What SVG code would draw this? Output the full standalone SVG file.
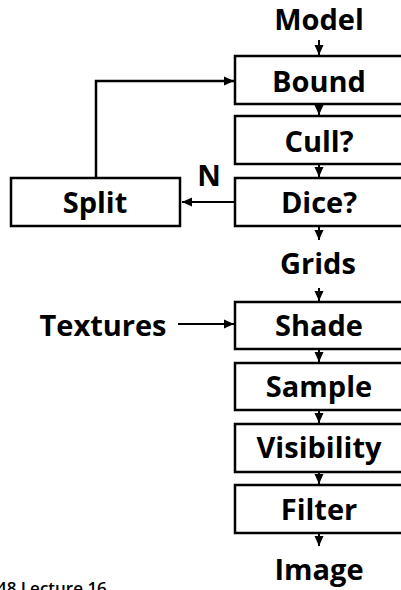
<svg xmlns="http://www.w3.org/2000/svg" width="401" height="590" viewBox="0 0 401 590">
  <style>
    .box { fill: #ffffff; stroke: #000000; stroke-width: 2.5; }
    .lbl { font-family: "Open Sans", "DejaVu Sans", sans-serif; font-weight: 700; font-size: 29px; fill: #000000; text-anchor: middle; }
    .foot { font-family: "Open Sans", "DejaVu Sans", sans-serif; font-weight: 600; font-size: 17px; fill: #000000; }
    .wire { fill: none; stroke: #000000; stroke-width: 2; }
    .wire3 { fill: none; stroke: #000000; stroke-width: 2.5; }
  </style>
  <defs>
    <marker id="head" markerUnits="userSpaceOnUse" markerWidth="10" markerHeight="10" viewBox="0 0 10 10" refX="10" refY="5" orient="auto">
      <path d="M0,0.5 L10,5 L0,9.5 Z" fill="#000000"/>
    </marker>
  </defs>
  <rect width="401" height="590" fill="#ffffff"/>

  <!-- connectors -->
  <g id="connectors">
    <path class="wire" d="M319,40 V55" marker-end="url(#head)"/>
    <path class="wire" d="M319,105 V115" marker-end="url(#head)"/>
    <path class="wire" d="M319,165 V177" marker-end="url(#head)"/>
    <path class="wire" d="M319,227 V240" marker-end="url(#head)"/>
    <path class="wire" d="M319,288 V301" marker-end="url(#head)"/>
    <path class="wire" d="M319,350 V362" marker-end="url(#head)"/>
    <path class="wire" d="M319,411 V423" marker-end="url(#head)"/>
    <path class="wire" d="M319,473 V484" marker-end="url(#head)"/>
    <path class="wire" d="M319,534 V546" marker-end="url(#head)"/>
    <!-- Dice? "N" branch to Split -->
    <path class="wire" d="M235,202 H182" marker-end="url(#head)"/>
    <text class="lbl" x="209" y="186">N</text>
    <!-- Split loops back into Bound -->
    <path class="wire3" d="M96,178 V81 H234" marker-end="url(#head)"/>
    <!-- Textures feed Shade -->
    <path class="wire" d="M178,324 H234" marker-end="url(#head)"/>
  </g>

  <g id="model"><text class="lbl" x="319" y="30">Model</text></g>
  <g id="bound"><rect class="box" x="235" y="56" width="170" height="48"/><text class="lbl" x="319" y="92">Bound</text></g>
  <g id="cull"><rect class="box" x="235" y="116" width="170" height="48"/><text class="lbl" x="319" y="152">Cull?</text></g>
  <g id="dice"><rect class="box" x="235" y="178" width="170" height="48"/><text class="lbl" x="319" y="213">Dice?</text></g>
  <g id="split"><rect class="box" x="11" y="178" width="169" height="48"/><text class="lbl" x="95" y="213">Split</text></g>
  <g id="grids"><text class="lbl" x="318" y="274">Grids</text></g>
  <g id="textures"><text class="lbl" x="103" y="336">Textures</text></g>
  <g id="shade"><rect class="box" x="235" y="302" width="170" height="47"/><text class="lbl" x="319" y="336">Shade</text></g>
  <g id="sample"><rect class="box" x="235" y="363" width="170" height="47"/><text class="lbl" x="319" y="397">Sample</text></g>
  <g id="visibility"><rect class="box" x="235" y="424" width="170" height="48"/><text class="lbl" x="319" y="458">Visibility</text></g>
  <g id="filter"><rect class="box" x="235" y="485" width="170" height="48"/><text class="lbl" x="319" y="520">Filter</text></g>
  <g id="image"><text class="lbl" x="319" y="580">Image</text></g>

  <text class="foot" x="-3" y="594">48 Lecture 16</text>
</svg>
